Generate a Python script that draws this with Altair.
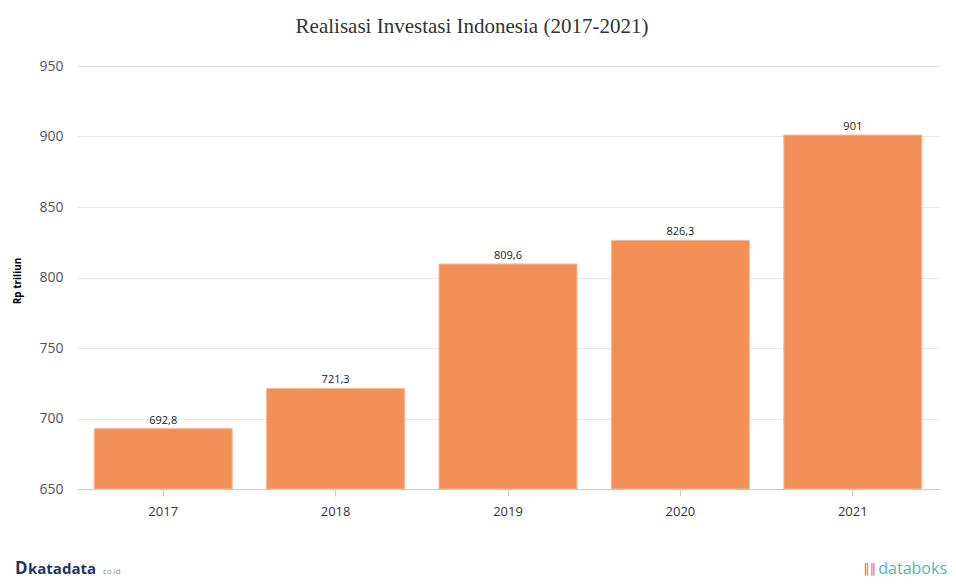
import altair as alt
import pandas as pd

years = ["2017", "2018", "2019", "2020", "2021"]
values = [692.8, 721.3, 809.6, 826.3, 901.0]
labels = ["692,8", "721,3", "809,6", "826,3", "901"]
y_ticks = [650, 700, 750, 800, 850, 900, 950]

df = pd.DataFrame({"year": years, "value": values, "label": labels})

W, H = 862, 423

base = alt.Chart(df)

bars = base.mark_bar(color="#F38B4F", opacity=0.95, stroke="#F7B48C", strokeWidth=1).encode(
    x=alt.X("year:N", title=None, sort=years,
            scale=alt.Scale(paddingInner=0.2, paddingOuter=0.1),
            axis=alt.Axis(labelAngle=0, labelFontSize=13, labelColor="#333333",
                          labelFont="Open Sans", domainColor="#CCCCCC", tickColor="#CCCCCC",
                          tickSize=7, labelPadding=9, grid=False)),
    y=alt.Y("value:Q", title="Rp triliun",
            scale=alt.Scale(domain=[650, 950], zero=False, nice=False),
            axis=alt.Axis(values=y_ticks, labelFontSize=14, labelColor="#555555",
                          labelFont="Open Sans", domain=False, ticks=False, labelPadding=14,
                          gridColor="#E8E8E8", titleFontSize=10, titleFont="Open Sans",
                          titleFontWeight="bold", titleColor="#000000",
                          titleX=-60, titleY=H / 2 + 3, titleAngle=-90,
                          titleAlign="center", titleBaseline="middle")),
    y2=alt.datum(650),
)

text = base.mark_text(dy=-8, fontSize=11, color="#222222", font="Open Sans").encode(
    x=alt.X("year:N", sort=years),
    y=alt.Y("value:Q"),
    text="label:N",
)

LY = 503
logo_df = pd.DataFrame({"k": [0]})
logo1 = alt.Chart(logo_df).mark_text(text="D", font="Open Sans", fontWeight="bold", fontSize=17,
                                     color="#1F3566", align="left", baseline="middle").encode(
    x=alt.value(-62), y=alt.value(LY))
logo2 = alt.Chart(logo_df).mark_text(text="katadata", font="Open Sans", fontSize=15,
                                     color="#1F3566", align="left", baseline="middle",
                                     fontWeight="bold").encode(
    x=alt.value(-49), y=alt.value(LY))
logo3 = alt.Chart(logo_df).mark_text(text="co.id", font="Open Sans", fontSize=8,
                                     color="#8A93A8", align="left", baseline="middle").encode(
    x=alt.value(26), y=alt.value(LY + 3))
logo4 = alt.Chart(logo_df).mark_text(text="databoks", font="Open Sans", fontSize=16,
                                     color="#4FB7B0", align="right", baseline="middle").encode(
    x=alt.value(W + 8), y=alt.value(LY))
logo5 = alt.Chart(logo_df).mark_text(text="\u2225\u2225", font="DejaVu Sans", fontSize=13,
                                     color="#E9624C", align="right", baseline="middle").encode(
    x=alt.value(W - 63), y=alt.value(LY))

chart = alt.layer(bars, text, logo1, logo2, logo3, logo4, logo5).properties(
    width=W,
    height=H,
    title=alt.TitleParams("Realisasi Investasi Indonesia (2017-2021)", font="Liberation Serif",
                          fontSize=21, fontWeight="normal", color="#333333",
                          anchor="middle", dx=-36, offset=22),
    autosize=alt.AutoSizeParams(type="none"),
    padding={"left": 69, "top": 58, "right": 9, "bottom": 91},
).configure(background="white").configure_view(strokeOpacity=0, strokeWidth=0)

chart.save("out.html", embed_options={"renderer": "svg", "actions": False})
